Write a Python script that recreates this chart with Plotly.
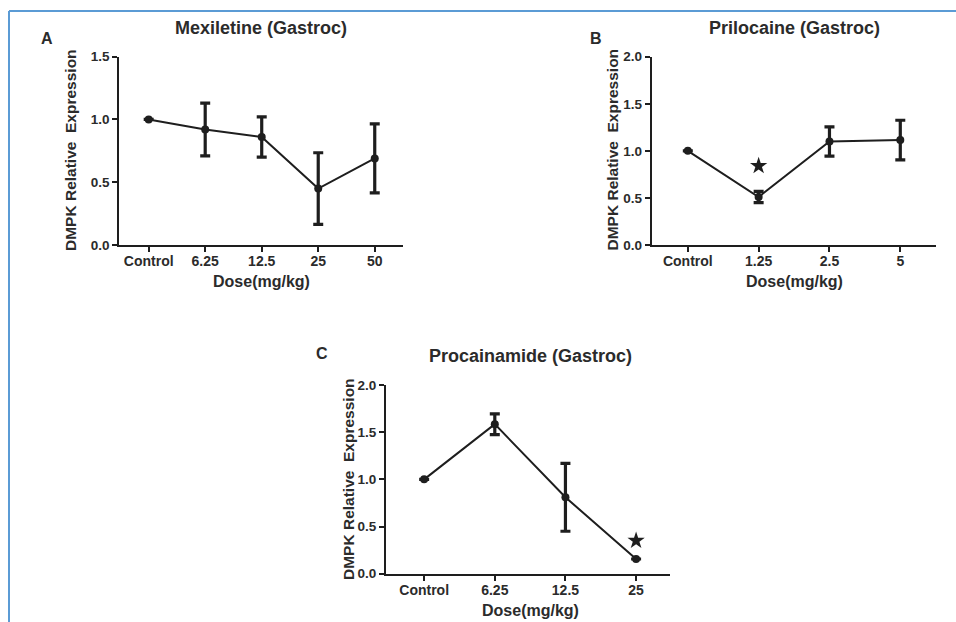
import plotly.graph_objects as go

# ---------------- data ----------------
mex_doses = ["Control", "6.25", "12.5", "25", "50"]
mex_mean = [1.00, 0.92, 0.86, 0.45, 0.69]
mex_err = [0.0, 0.21, 0.16, 0.285, 0.275]

pri_doses = ["Control", "1.25", "2.5", "5"]
pri_mean = [1.00, 0.51, 1.10, 1.115]
pri_err = [0.0, 0.06, 0.155, 0.21]
pri_star_x = ["1.25"]
pri_star_y = [0.84]

pro_doses = ["Control", "6.25", "12.5", "25"]
pro_mean = [1.00, 1.585, 0.81, 0.156]
pro_err = [0.0, 0.11, 0.36, 0.0]
pro_star_x = ["25"]
pro_star_y = [0.35]

mex_yticks = [0.0, 0.5, 1.0, 1.5]
pb_yticks = [0.0, 0.5, 1.0, 1.5, 2.0]

W, H = 956, 622
FONT = "Liberation Sans, Arial, sans-serif"
INK = "#1e1e1e"
TXT = "#2b2b2b"


def px(x):
    return x / W


def py(y):
    return 1 - y / H


fig = go.Figure()


def add_series(xs, ys, errs, xa, ya):
    fig.add_trace(go.Scatter(
        x=xs, y=ys, xaxis=xa, yaxis=ya, mode="lines+markers",
        line=dict(color=INK, width=2),
        marker=dict(color=INK, size=8, symbol="circle"),
        error_y=dict(type="data", array=errs, visible=True, color=INK,
                     thickness=3.2, width=5),
        showlegend=False, cliponaxis=False, hoverinfo="skip",
    ))


def add_star(xs, ys, xa, ya):
    fig.add_trace(go.Scatter(
        x=xs, y=ys, xaxis=xa, yaxis=ya, mode="markers",
        marker=dict(color=INK, size=13, symbol="star", line=dict(width=0)),
        showlegend=False, cliponaxis=False, hoverinfo="skip",
    ))


add_series(mex_doses, mex_mean, mex_err, "x", "y")
add_series(pri_doses, pri_mean, pri_err, "x2", "y2")
add_star(pri_star_x, pri_star_y, "x2", "y2")
add_series(pro_doses, pro_mean, pro_err, "x3", "y3")
add_star(pro_star_x, pro_star_y, "x3", "y3")

xtickfont = dict(family=FONT, size=14, color=TXT, weight="bold")
ytickfont = dict(family=FONT, size=13.5, color=TXT, weight="bold")


def xax(dom, rng, anchor):
    return dict(domain=dom, range=rng, type="category", anchor=anchor,
                showline=True, linecolor=INK, linewidth=2,
                ticks="outside", ticklen=5, tickwidth=1.5, tickcolor=INK,
                ticklabelstandoff=-3,
                showgrid=False, zeroline=False, tickfont=xtickfont,
                fixedrange=True, automargin=False)


def yax(dom, rng, tv, anchor):
    return dict(domain=dom, range=rng, anchor=anchor, tickvals=tv,
                tickformat=".1f",
                showline=True, linecolor=INK, linewidth=2,
                ticks="outside", ticklen=5, tickwidth=1.5, tickcolor=INK,
                showgrid=False, zeroline=False, tickfont=ytickfont,
                fixedrange=True, automargin=False)


fig.update_layout(
    width=W, height=H, autosize=False,
    margin=dict(l=0, r=0, t=0, b=0, pad=0, autoexpand=False),
    paper_bgcolor="white", plot_bgcolor="white",
    xaxis=xax([px(119.3), px(403)], [-0.52, 4.5], "y"),
    yaxis=yax([py(245), py(56.7)], [0, 1.5], mex_yticks, "x"),
    xaxis2=xax([px(651.7), px(935.7)], [-0.51, 3.5], "y2"),
    yaxis2=yax([py(245), py(56.7)], [0, 2.0], pb_yticks, "x2"),
    xaxis3=xax([px(386), px(670)], [-0.54, 3.48], "y3"),
    yaxis3=yax([py(573.7), py(385)], [0, 2.0], pb_yticks, "x3"),
)

ann = []


def text(x, y, s, size, angle=0):
    ann.append(dict(x=px(x), y=py(y), xref="paper", yref="paper", text=s,
                    showarrow=False, textangle=angle,
                    xanchor="center", yanchor="middle",
                    font=dict(family=FONT, size=size, color=TXT,
                              weight="bold")))


# panel labels
text(47, 38, "A", 16)
text(596, 38, "B", 16)
text(322, 353, "C", 16)
# titles
text(261, 28, "Mexiletine (Gastroc)", 18)
text(794, 28, "Prilocaine (Gastroc)", 18)
text(530.5, 356, "Procainamide (Gastroc)", 18)
# x-axis titles
text(261, 281, "Dose(mg/kg)", 16)
text(794, 281, "Dose(mg/kg)", 16)
text(530, 610.5, "Dose(mg/kg)", 16)
# y-axis titles
ytitle = "DMPK Relative\u00a0 Expression"
text(70, 150, ytitle, 15.5, -90)
text(611.5, 150, ytitle, 15.5, -90)
text(348, 479, ytitle, 15.5, -90)

fig.update_layout(annotations=ann)

# light-blue frame lines (top and left)
BLUE = "#5b9bd5"
fig.add_shape(type="line", xref="paper", yref="paper",
              x0=px(9), x1=1, y0=py(11), y1=py(11),
              line=dict(color=BLUE, width=2))
fig.add_shape(type="line", xref="paper", yref="paper",
              x0=px(9), x1=px(9), y0=0, y1=py(11),
              line=dict(color=BLUE, width=2))

fig.write_html(
    "out.html",
    config={"displayModeBar": False, "responsive": False},
    post_script=(
        "document.documentElement.style.margin='0';"
        "document.documentElement.style.padding='0';"
        "document.body.style.margin='0';"
        "document.body.style.padding='0';"
        "document.body.style.overflow='hidden';"
    ),
)
